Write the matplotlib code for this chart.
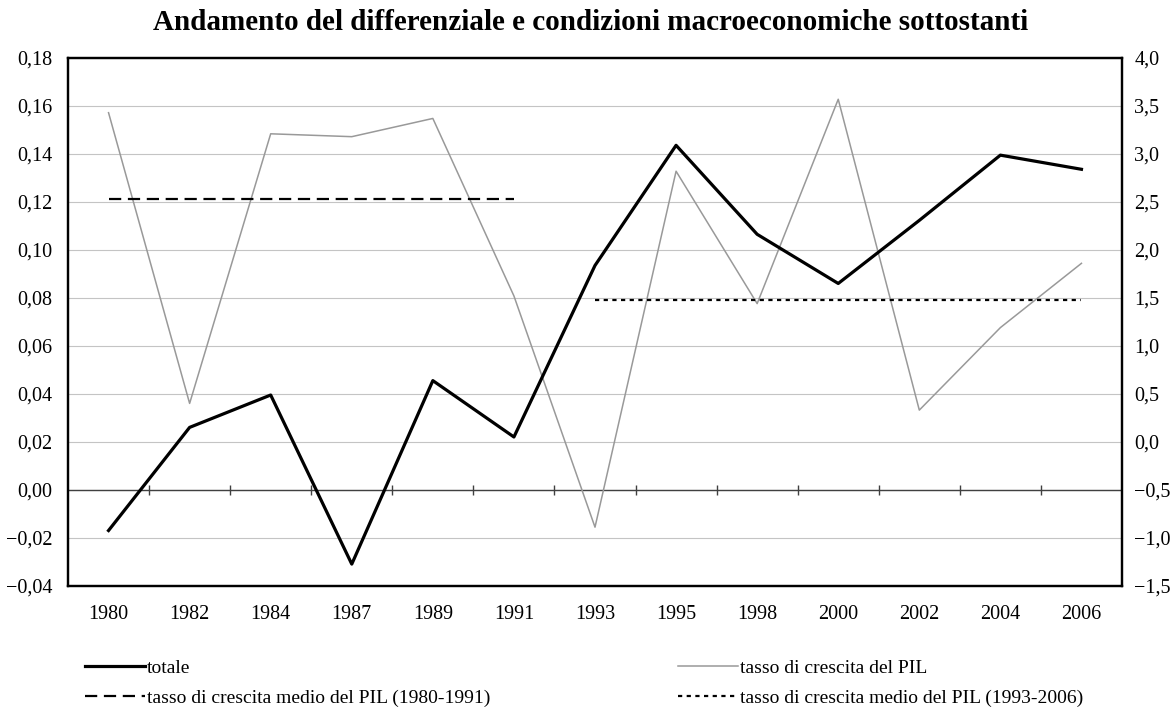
import matplotlib
matplotlib.use("Agg")
import matplotlib.pyplot as plt
from matplotlib.lines import Line2D
from matplotlib.ticker import FuncFormatter, MultipleLocator

plt.rcParams["font.family"] = ["Liberation Serif", "DejaVu Serif"]

# Data
years = ["1980", "1982", "1984", "1987", "1989", "1991", "1993",
         "1995", "1998", "2000", "2002", "2004", "2006"]
totale = [-0.017, 0.026, 0.0395, -0.031, 0.0455, 0.022, 0.0935,
          0.1436, 0.1065, 0.086, 0.1123, 0.1395, 0.1336]
crescita_pil = [3.43, 0.40, 3.21, 3.18, 3.37, 1.52, -0.89,
                2.82, 1.44, 3.57, 0.33, 1.19, 1.86]
media_1980_1991 = 2.53
media_1993_2006 = 1.48
periodo1 = ("1980", "1991")
periodo2 = ("1993", "2006")

title = "Andamento del differenziale e condizioni macroeconomiche sottostanti"

W, H = 1176, 712
fig = plt.figure(figsize=(W / 100, H / 100), dpi=100)
left, right, top, bottom = 68, 1122, 58, 585.7
ax = fig.add_axes([left / W, 1 - bottom / H, (right - left) / W, (bottom - top) / H])
ax2 = ax.twinx()

x = list(range(len(years)))
ax.set_xlim(-0.5, len(years) - 0.5)
ax.set_ylim(-0.04, 0.18)
ax2.set_ylim(-1.5, 4.0)
ax.yaxis.set_major_locator(MultipleLocator(0.02))
ax2.yaxis.set_major_locator(MultipleLocator(0.5))

def fmt(decimals):
    def f(v, _):
        s = f"{abs(v):.{decimals}f}".replace(".", ",")
        return ("\u2212" + s) if round(v, decimals) < 0 else s
    return FuncFormatter(f)

ax.yaxis.set_major_formatter(fmt(2))
ax2.yaxis.set_major_formatter(fmt(1))

# grid and frame
ax.grid(axis="y", color="#c4c4c4", linewidth=0.8)
ax.grid(axis="x", visible=False)
ax.set_axisbelow(True)
for a in (ax, ax2):
    for s in a.spines.values():
        s.set_color("black")
        s.set_linewidth(1.6)
ax.tick_params(axis="y", length=0, pad=11, labelsize=14.5)
ax2.tick_params(axis="y", length=0, pad=9, labelsize=14.5)
ax.set_xticks(x)
ax.set_xticklabels(years)
ax.tick_params(axis="x", length=0, pad=14, labelsize=14.5)

# category axis drawn at zero, with tick marks between categories
ax.axhline(0, color="#404040", linewidth=1.0, zorder=2)
bounds = [i + 0.5 for i in x[:-1]]
ax.plot(bounds, [0] * len(bounds), linestyle="none", marker="|",
        markersize=7.5, markeredgewidth=1.0, color="#404040", zorder=2)

# series
ax2.plot(x, crescita_pil, color="#999999", linewidth=1.1, zorder=3)
i1, j1 = years.index(periodo1[0]), years.index(periodo1[1])
i2, j2 = years.index(periodo2[0]), years.index(periodo2[1])
ax2.plot([x[i1], x[j1]], [media_1980_1991] * 2, color="black",
         linewidth=1.6, dashes=(5.5, 3.0), zorder=3)
ax2.plot([x[i2], x[j2]], [media_1993_2006] * 2, color="black",
         linewidth=1.6, dashes=(1.9, 2.0), zorder=3)
ax2.plot(x, totale, color="black", linewidth=2.3, zorder=4,
         transform=ax.transData)

fig.text(591 / W, 1 - 22 / H, title, ha="center", va="center",
         fontsize=21, fontweight="bold")

# legend
h_tot = Line2D([], [], color="black", linewidth=2.3)
h_d = Line2D([], [], color="black", linewidth=1.6, dashes=(5.5, 3.0))
h_pil = Line2D([], [], color="#999999", linewidth=1.1)
h_dot = Line2D([], [], color="black", linewidth=1.6, dashes=(1.9, 2.0))
kw = dict(frameon=False, fontsize=14, handlelength=3.1, handletextpad=0.1,
          labelspacing=0.65, borderpad=0, borderaxespad=0, loc="upper left")
fig.legend([h_tot, h_d], ["totale",
           f"tasso di crescita medio del PIL ({periodo1[0]}-{periodo1[1]})"],
           bbox_to_anchor=(85 / W, 1 - 659 / H), **kw)
fig.legend([h_pil, h_dot], ["tasso di crescita del PIL",
           f"tasso di crescita medio del PIL ({periodo2[0]}-{periodo2[1]})"],
           bbox_to_anchor=(678 / W, 1 - 659 / H), **kw)

fig.savefig("out.png", dpi=100)
